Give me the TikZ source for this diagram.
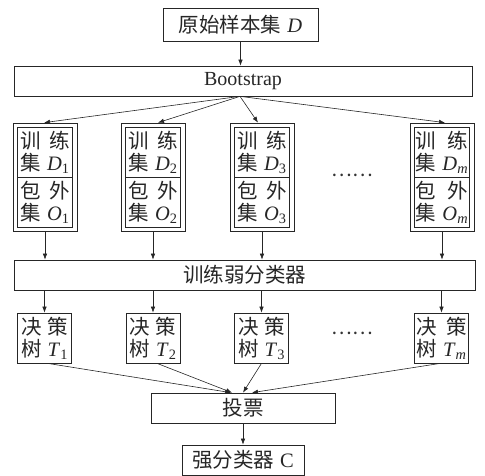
\documentclass[tikz,border=0pt]{standalone}
\usepackage{fontspec}
\setmainfont{Liberation Serif}
\newfontfamily\cjk{Noto Sans CJK SC}
\usetikzlibrary{arrows.meta,calc}
\newlength\jw
\newcommand\jl[3]{\settowidth{\jw}{#3}\makebox[\jw]{#1\hfill#2}\\#3}
\newcommand\lt[1]{{\rmfamily\textit{#1}}}
\newcommand\sub[2]{\hspace{0.3em}{\rmfamily\textit{#1}\textsubscript{#2}}}
\tikzset{
  box/.style={draw=black!85, line width=0.7pt, inner sep=0pt, align=center,
    font=\cjk\fontsize{20.5}{22}\selectfont, text=black!85},
  conn/.style={draw=black!85, line width=0.6pt, -{Latex[length=6pt,width=4.5pt]}},
  plain/.style={draw=black!85, line width=0.7pt},
  dotsnode/.style={inner sep=0pt, font=\cjk\fontsize{19.5}{22}\selectfont, text=black!80}
}
\begin{document}
\begin{tikzpicture}[x=1pt,y=-1pt]
\useasboundingbox (0,0) rectangle (485,476);
% top
\node[box, minimum width=155pt, minimum height=33pt] (top) at (240.5,24.5) {原始样本集\hspace{0.3em}\lt{D}};
\node[box, minimum width=458pt, minimum height=30pt, font=\rmfamily\fontsize{20}{22}\selectfont] (boot) at (243,81) {Bootstrap};
% outer boxes
\foreach \n/\cx in {1/45,2/153,3/262,m/442}{
  \node[plain, minimum width=64pt, minimum height=108pt, inner sep=0pt] (o\n) at (\cx,177) {};
}
\node[box, minimum width=55pt, minimum height=50pt] (u1) at (45,152) {\jl{训}{练}{集\sub{D}{1}}};
\node[box, minimum width=55pt, minimum height=50pt] (l1) at (45,202) {\jl{包}{外}{集\sub{O}{1}}};
\node[box, minimum width=55pt, minimum height=50pt] (u2) at (153,152) {\jl{训}{练}{集\sub{D}{2}}};
\node[box, minimum width=55pt, minimum height=50pt] (l2) at (153,202) {\jl{包}{外}{集\sub{O}{2}}};
\node[box, minimum width=55pt, minimum height=50pt] (u3) at (262,152) {\jl{训}{练}{集\sub{D}{3}}};
\node[box, minimum width=55pt, minimum height=50pt] (l3) at (262,202) {\jl{包}{外}{集\sub{O}{3}}};
\node[box, minimum width=55pt, minimum height=50pt] (um) at (442,152) {\jl{训}{练}{集\sub{D}{\textit{m}}}};
\node[box, minimum width=55pt, minimum height=50pt] (lm) at (442,202) {\jl{包}{外}{集\sub{O}{\textit{m}}}};
\node[dotsnode] (dots1) at (352,175) {……};
% weak
\node[box, minimum width=461pt, minimum height=30pt] (weak) at (244.5,275) {训练弱分类器};
% trees
\node[box, minimum width=54pt, minimum height=50pt] (t1) at (44.5,338) {\jl{决}{策}{树\sub{T}{1}}};
\node[box, minimum width=54pt, minimum height=50pt] (t2) at (153,338) {\jl{决}{策}{树\sub{T}{2}}};
\node[box, minimum width=54pt, minimum height=50pt] (t3) at (261.5,338) {\jl{决}{策}{树\sub{T}{3}}};
\node[box, minimum width=54pt, minimum height=50pt] (tm) at (441.5,338) {\jl{决}{策}{树\sub{T}{\textit{m}}}};
\node[dotsnode] (dots2) at (352,333) {……};
% vote, strong
\node[box, minimum width=184pt, minimum height=30pt] (vote) at (243,408) {投票};
\node[box, minimum width=122pt, minimum height=30pt] (strong) at (243,460) {强分类器\hspace{0.3em}{\rmfamily C}};
% connectors
\draw[conn] (top.south) -- (top.south |- boot.north);
\coordinate (bs) at ($(boot.south)+(-3,0)$);
\draw[conn] (bs) -- ($(o1.north)+(-1,0)$);
\draw[conn] (bs) -- ($(o2.north)+(5,0)$);
\draw[conn] (bs) -- ($(o3.north)+(-4,0)$);
\draw[conn] (bs) -- ($(om.north)+(3,0)$);
\foreach \n in {1,2,3,m}{
  \draw[conn] (o\n.south) -- (o\n.south |- weak.north);
  \draw[conn] (t\n.north |- weak.south) -- (t\n.north);
}
\draw[conn] ($(t1.south)+(3,0)$) -- ($(vote.north)+(-12,0)$);
\draw[conn] ($(t2.south)+(4,0)$) -- ($(vote.north)+(-11,0)$);
\draw[conn] (t3.south) -- ($(vote.north)+(0,0)$);
\draw[conn] ($(tm.south)+(-1,0)$) -- ($(vote.north)+(9,0)$);
\draw[conn] (vote.south) -- (vote.south |- strong.north);
\end{tikzpicture}
\end{document}
